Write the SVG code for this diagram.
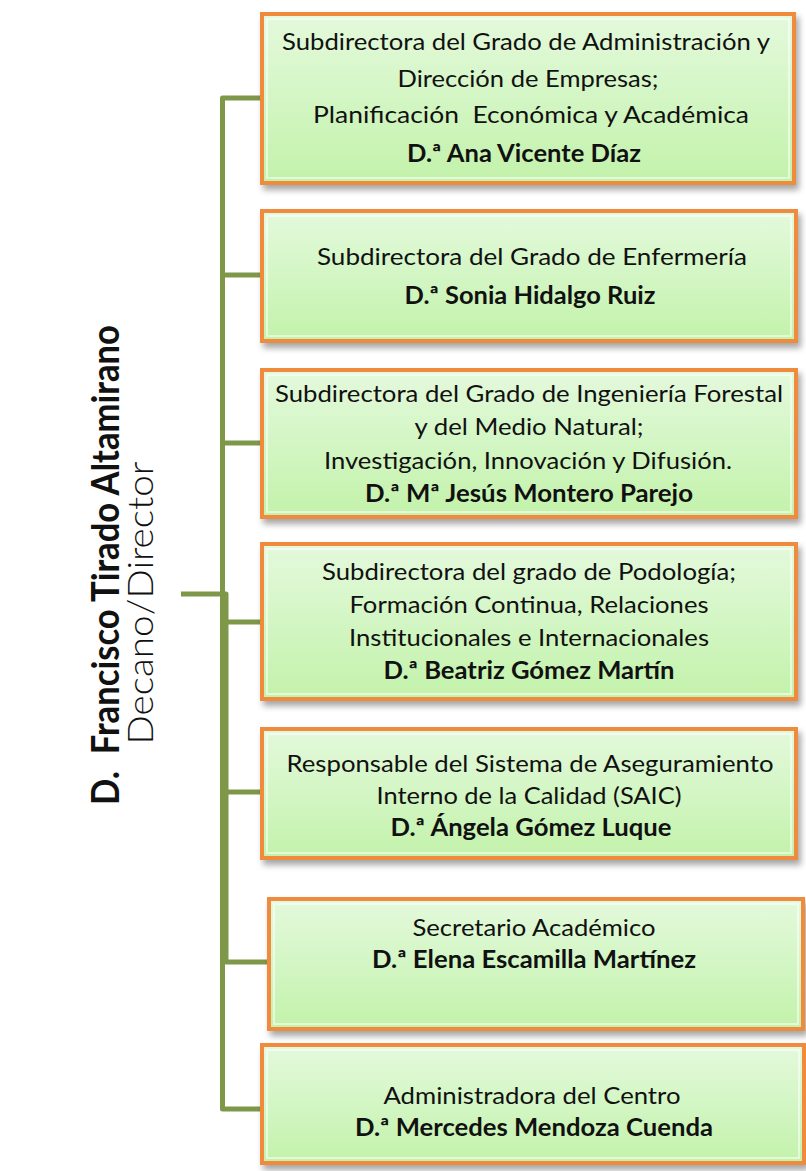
<svg xmlns="http://www.w3.org/2000/svg" width="806" height="1171" viewBox="0 0 806 1171">
  <defs>
    <linearGradient id="boxFill" x1="0" y1="0" x2="0" y2="1">
      <stop offset="0" stop-color="#e4f9dc"/>
      <stop offset="0.5" stop-color="#d3f6c4"/>
      <stop offset="1" stop-color="#c3f2aa"/>
    </linearGradient>
    <filter id="shadow" x="-5%" y="-5%" width="115%" height="125%">
      <feDropShadow dx="3" dy="5" stdDeviation="3" flood-color="#000000" flood-opacity="0.35"/>
    </filter>
  </defs>
  <style>
    .box { fill: url(#boxFill); stroke: #f08b3c; stroke-width: 4; filter: url(#shadow); }
    .inner { fill: none; stroke: #ffffff; stroke-opacity: 0.55; stroke-width: 2; }
    .conn { fill: none; stroke: #7f9748; stroke-width: 5; stroke-linejoin: round; }
    .t { font-family: Lato, "Open Sans", "Liberation Sans", sans-serif; font-size: 24px; fill: #111111; text-anchor: middle; }
    .b { font-weight: bold; }
    .side { font-family: Lato, "Open Sans", "Liberation Sans", sans-serif; fill: #111111; text-anchor: middle; }
  </style>
  <rect width="806" height="1171" fill="#ffffff"/>

  <g id="connectors">
    <path class="conn" d="M262,98 H222.5 V1109 H262"/>
    <path class="conn" d="M222.5,275 H262"/>
    <path class="conn" d="M222.5,443 H262"/>
    <path class="conn" d="M181,594 H226 V962 H269"/>
    <path class="conn" d="M226,622 H262"/>
    <path class="conn" d="M226,792 H262"/>
  </g>

  <g id="decano">
    <text class="side" font-size="35" font-weight="300" transform="translate(153,603) rotate(-90)" textLength="283" lengthAdjust="spacingAndGlyphs">Decano/Director</text>
    <text class="side b" font-size="38" transform="translate(119,565) rotate(-90)" textLength="480" lengthAdjust="spacingAndGlyphs" xml:space="preserve">D.  Francisco Tirado Altamirano</text>
  </g>

  <g id="node1">
    <rect class="box" x="262" y="14" width="532" height="169"/>
    <rect class="inner" x="267" y="19" width="522" height="159"/>
    <text class="t" x="526" y="50" textLength="488" lengthAdjust="spacingAndGlyphs">Subdirectora del Grado de Administración y</text>
    <text class="t" x="528" y="87" textLength="261" lengthAdjust="spacingAndGlyphs">Dirección de Empresas;</text>
    <text class="t" x="531" y="123" textLength="436" lengthAdjust="spacingAndGlyphs" xml:space="preserve">Planificación  Económica y Académica</text>
    <text class="t b" x="524" y="162" textLength="234" lengthAdjust="spacingAndGlyphs">D.ª Ana Vicente Díaz</text>
  </g>

  <g id="node2">
    <rect class="box" x="262" y="211" width="534" height="130"/>
    <rect class="inner" x="267" y="216" width="524" height="120"/>
    <text class="t" x="532" y="265" textLength="430" lengthAdjust="spacingAndGlyphs">Subdirectora del Grado de Enfermería</text>
    <text class="t b" x="530" y="304" textLength="251" lengthAdjust="spacingAndGlyphs">D.ª Sonia Hidalgo Ruiz</text>
  </g>

  <g id="node3">
    <rect class="box" x="262" y="370" width="534" height="147"/>
    <rect class="inner" x="267" y="375" width="524" height="137"/>
    <text class="t" x="529" y="402" textLength="508" lengthAdjust="spacingAndGlyphs">Subdirectora del Grado de Ingeniería Forestal</text>
    <text class="t" x="529" y="435" textLength="229" lengthAdjust="spacingAndGlyphs">y del Medio Natural;</text>
    <text class="t" x="528" y="469" textLength="408" lengthAdjust="spacingAndGlyphs">Investigación, Innovación y Difusión.</text>
    <text class="t b" x="529" y="502" textLength="328" lengthAdjust="spacingAndGlyphs">D.ª Mª Jesús Montero Parejo</text>
  </g>

  <g id="node4">
    <rect class="box" x="262" y="544" width="534" height="155"/>
    <rect class="inner" x="267" y="549" width="524" height="145"/>
    <text class="t" x="529" y="580" textLength="414" lengthAdjust="spacingAndGlyphs">Subdirectora del grado de Podología;</text>
    <text class="t" x="529" y="613" textLength="359" lengthAdjust="spacingAndGlyphs">Formación Continua, Relaciones</text>
    <text class="t" x="529" y="646" textLength="360" lengthAdjust="spacingAndGlyphs">Institucionales e Internacionales</text>
    <text class="t b" x="529" y="679" textLength="291" lengthAdjust="spacingAndGlyphs">D.ª Beatriz Gómez Martín</text>
  </g>

  <g id="node5">
    <rect class="box" x="262" y="729" width="534" height="129"/>
    <rect class="inner" x="267" y="734" width="524" height="119"/>
    <text class="t" x="530" y="772" textLength="487" lengthAdjust="spacingAndGlyphs">Responsable del Sistema de Aseguramiento</text>
    <text class="t" x="529" y="804" textLength="305" lengthAdjust="spacingAndGlyphs">Interno de la Calidad (SAIC)</text>
    <text class="t b" x="531" y="836" textLength="281" lengthAdjust="spacingAndGlyphs">D.ª Ángela Gómez Luque</text>
  </g>

  <g id="node6">
    <rect class="box" x="269" y="899" width="534" height="130"/>
    <rect class="inner" x="274" y="904" width="524" height="120"/>
    <text class="t" x="534" y="936" textLength="243" lengthAdjust="spacingAndGlyphs">Secretario Académico</text>
    <text class="t b" x="534" y="968" textLength="324" lengthAdjust="spacingAndGlyphs">D.ª Elena Escamilla Martínez</text>
  </g>

  <g id="node7">
    <rect class="box" x="262" y="1045" width="542" height="118"/>
    <rect class="inner" x="267" y="1050" width="532" height="108"/>
    <text class="t" x="532" y="1104" textLength="297" lengthAdjust="spacingAndGlyphs">Administradora del Centro</text>
    <text class="t b" x="534" y="1136" textLength="358" lengthAdjust="spacingAndGlyphs">D.ª Mercedes Mendoza Cuenda</text>
  </g>
</svg>
